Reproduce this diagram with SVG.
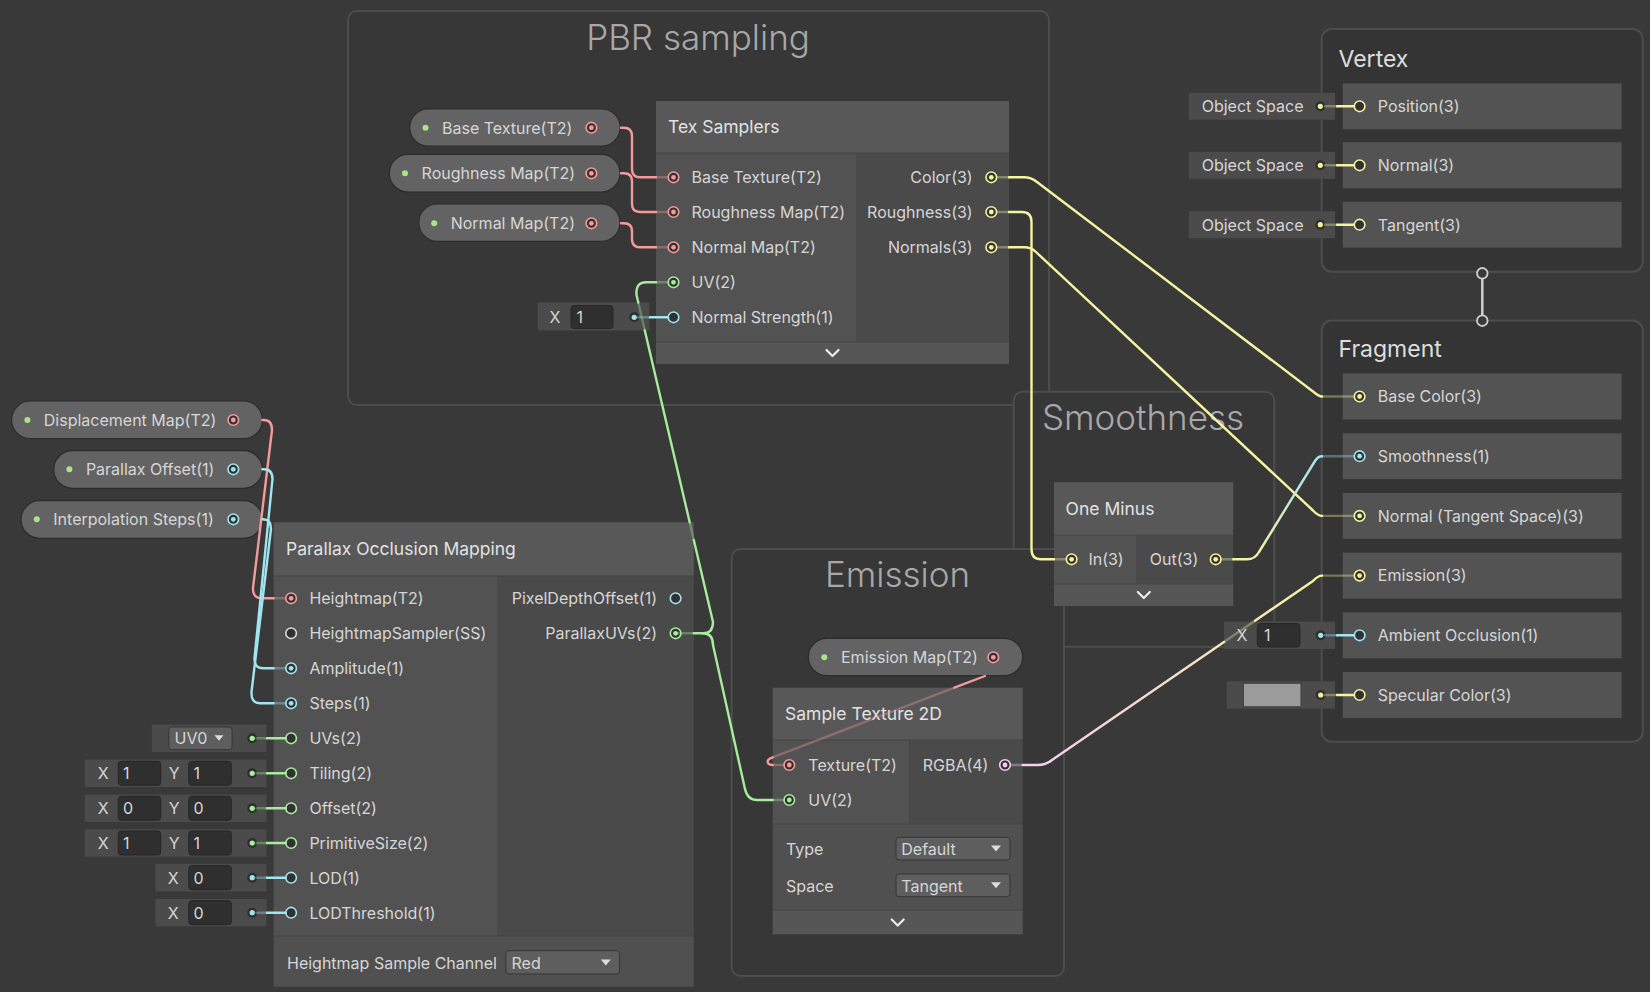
<svg xmlns="http://www.w3.org/2000/svg" width="1650" height="992" viewBox="0 0 1650 992">
<style>
text{font-family:Inter,"Noto Sans","Liberation Sans",sans-serif}
.lbl{font-size:16px;fill:#d6d6d6}
.ttl{font-size:17.5px;fill:#e2e2e2}
.gtl{font-size:35px;fill:#a8a8a8;text-anchor:middle;font-weight:300}
.ctl{font-size:23px;fill:#dedede}
.end{text-anchor:end}
.mid{text-anchor:middle}
.grp{fill:#373737;stroke:#4d4d4d;stroke-width:2}
.grp2{fill:#343434;stroke:#4d4d4d;stroke-width:2}
.hdr{fill:#585858}
.inp{fill:#525252}
.outp{fill:#4a4a4a}
.ftr{fill:#565656}
.prop{fill:#505050}
.sep{stroke:#444;stroke-width:1.2}
.pill{fill:#636363;stroke:#2c2c2c;stroke-width:1.2}
.fc{fill:#4b4b4b}
.fb{fill:#2f2f2f;stroke:#262626;stroke-width:1}
.dd{fill:#5e5e5e;stroke:#353535;stroke-width:1}
.blk{fill:#535353}
.chev{fill:none;stroke:#ececec;stroke-width:2.2;stroke-linecap:round;stroke-linejoin:round}
.arr{fill:#dcdcdc}
.p{fill:#313131;stroke-width:1.6}
.pt2{stroke:#f49a9a}.pv1{stroke:#9fe4ee}.pv2{stroke:#a8ec9e}.pv3{stroke:#f2f29e}.pv4{stroke:#f3cdee}.pss{stroke:#d9d9d9}
.dt2{fill:#f49a9a}.dv1{fill:#9fe4ee}.dv2{fill:#a8ec9e}.dv3{fill:#f2f29e}.dv4{fill:#f3cdee}
.pd{fill:#a8e48a}
.fd{fill:#2e2e2e}
.w{fill:none;stroke-width:2.4;stroke-linecap:round;stroke-linejoin:round}
.t2{stroke:#f39b9b}.v1{stroke:#a0e5ef}.v2{stroke:#a6ec9c}.v3{stroke:#f4f4a0}.v4{stroke:#f5cdef}
.dim{opacity:.35}
.vf{fill:none;stroke:#cfcfcf;stroke-width:2.5}
.vfc{fill:#393939;stroke:#cfcfcf;stroke-width:1.8}
</style>
<defs>
<linearGradient id="gOS" gradientUnits="userSpaceOnUse" x1="1240" y1="559" x2="1322" y2="456"><stop offset="0" stop-color="#f4f4a0"/><stop offset="1" stop-color="#a0e5ef"/></linearGradient>
<linearGradient id="gRE" gradientUnits="userSpaceOnUse" x1="1030" y1="765" x2="1322" y2="577"><stop offset="0" stop-color="#f5cdef"/><stop offset="1" stop-color="#f4f4a0"/></linearGradient>
</defs>
<rect x="0" y="0" width="1650" height="992" fill="#393939"/>

<!-- groups -->
<g id="group-pbr-sampling">
<rect x="348" y="11" width="701" height="394" rx="9" class="grp"/>
<text x="698" y="50" class="gtl">PBR sampling</text>
</g>
<g id="group-smoothness">
<rect x="1013.7" y="391.7" width="260.6" height="255" rx="9" class="grp"/>
<text x="1143" y="430" class="gtl">Smoothness</text>
</g>
<g id="group-emission">
<rect x="731.7" y="549" width="332.3" height="427" rx="9" class="grp"/>
<text x="897.5" y="586.7" class="gtl">Emission</text>
</g>

<!-- PBR pills -->
<g id="prop-base-texture">
<rect x="409.7" y="109" width="210.5" height="37" rx="18.5" class="pill"/>
<circle cx="425.5" cy="127.7" r="3" class="pd"/>
<text x="442" y="133.5" class="lbl">Base Texture(T2)</text>
<circle cx="591.4" cy="127.7" r="5.3" class="p pt2"/><circle cx="591.4" cy="127.7" r="2.4" class="dt2"/>
</g>
<g id="prop-roughness-map">
<rect x="389.3" y="154.3" width="230.7" height="37.7" rx="18.8" class="pill"/>
<circle cx="405" cy="173.3" r="3" class="pd"/>
<text x="421.6" y="179.1" class="lbl">Roughness Map(T2)</text>
<circle cx="591.4" cy="173.3" r="5.3" class="p pt2"/><circle cx="591.4" cy="173.3" r="2.4" class="dt2"/>
</g>
<g id="prop-normal-map">
<rect x="418.8" y="204" width="201.2" height="37.3" rx="18.6" class="pill"/>
<circle cx="434.2" cy="223.3" r="3" class="pd"/>
<text x="450.7" y="229.1" class="lbl">Normal Map(T2)</text>
<circle cx="591.4" cy="223.3" r="5.3" class="p pt2"/><circle cx="591.4" cy="223.3" r="2.4" class="dt2"/>
</g>

<!-- Tex Samplers -->
<g id="node-tex-samplers">
<rect x="656" y="101" width="353" height="52" class="hdr"/>
<rect x="656" y="153" width="200" height="189" class="inp"/>
<rect x="856" y="153" width="153" height="189" class="outp"/>
<rect x="656" y="342" width="353" height="22" class="ftr"/>
<line x1="656" y1="153" x2="1009" y2="153" class="sep"/>
<line x1="656" y1="342" x2="1009" y2="342" class="sep"/>
<text x="668" y="133" class="ttl">Tex Samplers</text>
<circle cx="673.5" cy="177.3" r="5.3" class="p pt2"/><circle cx="673.5" cy="177.3" r="2.4" class="dt2"/>
<text x="691.5" y="183.1" class="lbl">Base Texture(T2)</text>
<circle cx="673.5" cy="212" r="5.3" class="p pt2"/><circle cx="673.5" cy="212" r="2.4" class="dt2"/>
<text x="691.5" y="217.8" class="lbl">Roughness Map(T2)</text>
<circle cx="673.5" cy="247.3" r="5.3" class="p pt2"/><circle cx="673.5" cy="247.3" r="2.4" class="dt2"/>
<text x="691.5" y="253.1" class="lbl">Normal Map(T2)</text>
<circle cx="673.5" cy="282.3" r="5.3" class="p pv2"/><circle cx="673.5" cy="282.3" r="2.4" class="dv2"/>
<text x="691.5" y="288.1" class="lbl">UV(2)</text>
<circle cx="673.5" cy="317.3" r="5.3" class="p pv1"/>
<text x="691.5" y="323.1" class="lbl">Normal Strength(1)</text>
<text x="972.7" y="183.1" class="lbl end">Color(3)</text>
<circle cx="991.3" cy="177.3" r="5.3" class="p pv3"/><circle cx="991.3" cy="177.3" r="2.4" class="dv3"/>
<text x="972.7" y="217.8" class="lbl end">Roughness(3)</text>
<circle cx="991.3" cy="212" r="5.3" class="p pv3"/><circle cx="991.3" cy="212" r="2.4" class="dv3"/>
<text x="972.7" y="253.1" class="lbl end">Normals(3)</text>
<circle cx="991.3" cy="247.3" r="5.3" class="p pv3"/><circle cx="991.3" cy="247.3" r="2.4" class="dv3"/>
<path d="M826.5,350 L832.5,356 L838.5,350" class="chev"/>
<rect x="537.7" y="302.5" width="111.6" height="28" class="fc"/>
<text x="555" y="323.1" class="lbl mid">X</text>
<rect x="571" y="305.5" width="42" height="23" rx="3" class="fb"/>
<text x="576.5" y="323.1" class="lbl">1</text>
<circle cx="634.2" cy="317.3" r="5" class="fd"/><circle cx="634.2" cy="317.3" r="2.6" class="dv1"/>
</g>

<!-- Left pills -->
<g id="prop-displacement-map">
<rect x="11.6" y="401" width="250.8" height="37.7" rx="18.8" class="pill"/>
<circle cx="27.4" cy="420" r="3" class="pd"/>
<text x="43.8" y="425.8" class="lbl">Displacement Map(T2)</text>
<circle cx="233.3" cy="420" r="5.3" class="p pt2"/><circle cx="233.3" cy="420" r="2.4" class="dt2"/>
</g>
<g id="prop-parallax-offset">
<rect x="53.7" y="450.7" width="208.7" height="37.6" rx="18.8" class="pill"/>
<circle cx="69.4" cy="469.3" r="3" class="pd"/>
<text x="85.9" y="475.1" class="lbl">Parallax Offset(1)</text>
<circle cx="233.3" cy="469.3" r="5.3" class="p pv1"/><circle cx="233.3" cy="469.3" r="2.4" class="dv1"/>
</g>
<g id="prop-interpolation-steps">
<rect x="21" y="500.7" width="241.4" height="37.6" rx="18.8" class="pill"/>
<circle cx="36.8" cy="519.3" r="3" class="pd"/>
<text x="53.3" y="525.1" class="lbl">Interpolation Steps(1)</text>
<circle cx="233.3" cy="519.3" r="5.3" class="p pv1"/><circle cx="233.3" cy="519.3" r="2.4" class="dv1"/>
</g>

<!-- Parallax Occlusion Mapping -->
<g id="node-parallax-occlusion-mapping">
<rect x="273.6" y="522.3" width="420.2" height="53.7" class="hdr"/>
<rect x="273.6" y="576" width="223.4" height="360" class="inp"/>
<rect x="497" y="576" width="196.8" height="360" class="outp"/>
<rect x="273.6" y="936" width="420.2" height="50.7" class="prop"/>
<line x1="273.6" y1="576" x2="693.8" y2="576" class="sep"/>
<line x1="273.6" y1="936" x2="693.8" y2="936" class="sep"/>
<text x="286" y="555.3" class="ttl">Parallax Occlusion Mapping</text>
<circle cx="291.1" cy="598.3" r="5.3" class="p pt2"/><circle cx="291.1" cy="598.3" r="2.4" class="dt2"/>
<text x="309.4" y="604.1" class="lbl">Heightmap(T2)</text>
<circle cx="291.1" cy="633.3" r="5.3" class="p pss"/>
<text x="309.4" y="639.1" class="lbl">HeightmapSampler(SS)</text>
<circle cx="291.1" cy="668.3" r="5.3" class="p pv1"/><circle cx="291.1" cy="668.3" r="2.4" class="dv1"/>
<text x="309.4" y="674.1" class="lbl">Amplitude(1)</text>
<circle cx="291.1" cy="703.3" r="5.3" class="p pv1"/><circle cx="291.1" cy="703.3" r="2.4" class="dv1"/>
<text x="309.4" y="709.1" class="lbl">Steps(1)</text>
<circle cx="291.1" cy="738.3" r="5.3" class="p pv2"/>
<text x="309.4" y="744.1" class="lbl">UVs(2)</text>
<circle cx="291.1" cy="773.3" r="5.3" class="p pv2"/>
<text x="309.4" y="779.1" class="lbl">Tiling(2)</text>
<circle cx="291.1" cy="808.3" r="5.3" class="p pv2"/>
<text x="309.4" y="814.1" class="lbl">Offset(2)</text>
<circle cx="291.1" cy="843" r="5.3" class="p pv2"/>
<text x="309.4" y="848.8" class="lbl">PrimitiveSize(2)</text>
<circle cx="291.1" cy="877.7" r="5.3" class="p pv1"/>
<text x="309.4" y="883.5" class="lbl">LOD(1)</text>
<circle cx="291.1" cy="912.7" r="5.3" class="p pv1"/>
<text x="309.4" y="918.5" class="lbl">LODThreshold(1)</text>
<text x="657" y="604.1" class="lbl end">PixelDepthOffset(1)</text>
<circle cx="675.6" cy="598.3" r="5.3" class="p pv1"/>
<text x="657" y="639.1" class="lbl end">ParallaxUVs(2)</text>
<circle cx="675.6" cy="633.3" r="5.3" class="p pv2"/><circle cx="675.6" cy="633.3" r="2.4" class="dv2"/>
<text x="287" y="968.5" class="lbl">Heightmap Sample Channel</text>
<rect x="505.8" y="950.7" width="113.8" height="23.3" rx="3" class="dd"/>
<text x="511.5" y="968.5" class="lbl">Red</text>
<path d="M600.8,959.5 L610.8,959.5 L605.8,965.5 Z" class="arr"/>
<!-- inline inputs -->
<rect x="151.8" y="724.6" width="114.7" height="27.4" class="fc"/>
<rect x="168.8" y="727" width="63.3" height="22.6" rx="3" class="dd"/>
<text x="174.5" y="744.1" class="lbl">UV0</text>
<path d="M214.5,735.3 L223.5,735.3 L219,740.8 Z" class="arr"/>
<circle cx="252.2" cy="738.3" r="5" class="fd"/><circle cx="252.2" cy="738.3" r="2.6" class="dv2"/>
<rect x="84.8" y="759.6" width="181.7" height="27.4" class="fc"/>
<text x="103.2" y="779.1" class="lbl mid">X</text>
<rect x="118.3" y="761.3" width="42.4" height="24" rx="3" class="fb"/>
<text x="123" y="779.1" class="lbl">1</text>
<text x="174.1" y="779.1" class="lbl mid">Y</text>
<rect x="188.8" y="761.3" width="42.5" height="24" rx="3" class="fb"/>
<text x="193.5" y="779.1" class="lbl">1</text>
<circle cx="252.2" cy="773.3" r="5" class="fd"/><circle cx="252.2" cy="773.3" r="2.6" class="dv2"/>
<rect x="84.8" y="794.6" width="181.7" height="27.4" class="fc"/>
<text x="103.2" y="814.1" class="lbl mid">X</text>
<rect x="118.3" y="796.3" width="42.4" height="24" rx="3" class="fb"/>
<text x="123" y="814.1" class="lbl">0</text>
<text x="174.1" y="814.1" class="lbl mid">Y</text>
<rect x="188.8" y="796.3" width="42.5" height="24" rx="3" class="fb"/>
<text x="193.5" y="814.1" class="lbl">0</text>
<circle cx="252.2" cy="808.3" r="5" class="fd"/><circle cx="252.2" cy="808.3" r="2.6" class="dv2"/>
<rect x="84.8" y="829.3" width="181.7" height="27.4" class="fc"/>
<text x="103.2" y="848.8" class="lbl mid">X</text>
<rect x="118.3" y="831" width="42.4" height="24" rx="3" class="fb"/>
<text x="123" y="848.8" class="lbl">1</text>
<text x="174.1" y="848.8" class="lbl mid">Y</text>
<rect x="188.8" y="831" width="42.5" height="24" rx="3" class="fb"/>
<text x="193.5" y="848.8" class="lbl">1</text>
<circle cx="252.2" cy="843" r="5" class="fd"/><circle cx="252.2" cy="843" r="2.6" class="dv2"/>
<rect x="155.4" y="864" width="111.1" height="27.4" class="fc"/>
<text x="173.2" y="883.5" class="lbl mid">X</text>
<rect x="188.8" y="865.7" width="42.5" height="24" rx="3" class="fb"/>
<text x="193.5" y="883.5" class="lbl">0</text>
<circle cx="252.2" cy="877.7" r="5" class="fd"/><circle cx="252.2" cy="877.7" r="2.6" class="dv1"/>
<rect x="155.4" y="899" width="111.1" height="27.4" class="fc"/>
<text x="173.2" y="918.5" class="lbl mid">X</text>
<rect x="188.8" y="900.7" width="42.5" height="24" rx="3" class="fb"/>
<text x="193.5" y="918.5" class="lbl">0</text>
<circle cx="252.2" cy="912.7" r="5" class="fd"/><circle cx="252.2" cy="912.7" r="2.6" class="dv1"/>
</g>

<!-- Emission -->
<g id="prop-emission-map">
<rect x="808.3" y="638.3" width="214.4" height="37.4" rx="18.7" class="pill"/>
<circle cx="824.3" cy="657.3" r="3" class="pd"/>
<text x="841" y="663.1" class="lbl">Emission Map(T2)</text>
<circle cx="993.3" cy="657.3" r="5.3" class="p pt2"/><circle cx="993.3" cy="657.3" r="2.4" class="dt2"/>
</g>
<g id="node-sample-texture-2d">
<rect x="772.7" y="687.7" width="250" height="52.3" class="hdr"/>
<rect x="772.7" y="740" width="136.6" height="84" class="inp"/>
<rect x="909.3" y="740" width="113.4" height="84" class="outp"/>
<rect x="772.7" y="824" width="250" height="86" class="prop"/>
<rect x="772.7" y="910" width="250" height="24.3" class="ftr"/>
<line x1="772.7" y1="740" x2="1022.7" y2="740" class="sep"/>
<line x1="772.7" y1="824" x2="1022.7" y2="824" class="sep"/>
<line x1="772.7" y1="910" x2="1022.7" y2="910" class="sep"/>
<text x="785" y="720" class="ttl">Sample Texture 2D</text>
<circle cx="789.3" cy="765" r="5.3" class="p pt2"/><circle cx="789.3" cy="765" r="2.4" class="dt2"/>
<text x="808.3" y="770.8" class="lbl">Texture(T2)</text>
<circle cx="789.3" cy="800" r="5.3" class="p pv2"/><circle cx="789.3" cy="800" r="2.4" class="dv2"/>
<text x="808.3" y="805.8" class="lbl">UV(2)</text>
<text x="922.7" y="770.8" class="lbl">RGBA(4)</text>
<circle cx="1005" cy="765" r="5.3" class="p pv4"/><circle cx="1005" cy="765" r="2.4" class="dv4"/>
<text x="786" y="854.5" class="lbl">Type</text>
<rect x="896" y="837.3" width="114" height="22.7" rx="3" class="dd"/>
<text x="901.3" y="854.5" class="lbl">Default</text>
<path d="M991,845.5 L1001,845.5 L996,851.5 Z" class="arr"/>
<text x="786" y="891.5" class="lbl">Space</text>
<rect x="896" y="874" width="114" height="22.7" rx="3" class="dd"/>
<text x="901.3" y="891.5" class="lbl">Tangent</text>
<path d="M991,882.3 L1001,882.3 L996,888.3 Z" class="arr"/>
<path d="M891.7,919.5 L897.7,925.5 L903.7,919.5" class="chev"/>
</g>

<!-- One Minus -->
<g id="node-one-minus">
<rect x="1054" y="482.3" width="179.3" height="52.7" class="hdr"/>
<rect x="1054" y="535" width="82" height="49" class="inp"/>
<rect x="1136" y="535" width="97.3" height="49" class="outp"/>
<rect x="1054" y="584" width="179.3" height="22" class="ftr"/>
<line x1="1054" y1="535" x2="1233.3" y2="535" class="sep"/>
<line x1="1054" y1="584" x2="1233.3" y2="584" class="sep"/>
<text x="1065.6" y="514.5" class="ttl">One Minus</text>
<circle cx="1071.6" cy="559.3" r="5.3" class="p pv3"/><circle cx="1071.6" cy="559.3" r="2.4" class="dv3"/>
<text x="1088.4" y="565.1" class="lbl">In(3)</text>
<text x="1149.8" y="565.1" class="lbl">Out(3)</text>
<circle cx="1215.7" cy="559.3" r="5.3" class="p pv3"/><circle cx="1215.7" cy="559.3" r="2.4" class="dv3"/>
<path d="M1137.8,592 L1143.8,598 L1149.8,592" class="chev"/>
</g>

<!-- Vertex -->
<g id="context-vertex">
<rect x="1321.7" y="29" width="321" height="242.7" rx="10" class="grp2"/>
<text x="1338.5" y="66.7" class="ctl">Vertex</text>
<rect x="1342.7" y="83.3" width="279" height="46" class="blk"/>
<rect x="1342.7" y="142.3" width="279" height="46" class="blk"/>
<rect x="1342.7" y="201.7" width="279" height="46" class="blk"/>
<circle cx="1359.6" cy="106.3" r="5.3" class="p pv3"/>
<text x="1377.8" y="112.1" class="lbl">Position(3)</text>
<circle cx="1359.6" cy="165.3" r="5.3" class="p pv3"/>
<text x="1377.8" y="171.1" class="lbl">Normal(3)</text>
<circle cx="1359.6" cy="224.7" r="5.3" class="p pv3"/>
<text x="1377.8" y="230.5" class="lbl">Tangent(3)</text>
<rect x="1188.7" y="92.8" width="146.3" height="27" class="fc"/>
<text x="1201.7" y="112.1" class="lbl">Object Space</text>
<circle cx="1320.3" cy="106.3" r="5" class="fd"/><circle cx="1320.3" cy="106.3" r="2.6" class="dv3"/>
<rect x="1188.7" y="151.8" width="146.3" height="27" class="fc"/>
<text x="1201.7" y="171.1" class="lbl">Object Space</text>
<circle cx="1320.3" cy="165.3" r="5" class="fd"/><circle cx="1320.3" cy="165.3" r="2.6" class="dv3"/>
<rect x="1188.7" y="211.2" width="146.3" height="27" class="fc"/>
<text x="1201.7" y="230.5" class="lbl">Object Space</text>
<circle cx="1320.3" cy="224.7" r="5" class="fd"/><circle cx="1320.3" cy="224.7" r="2.6" class="dv3"/>
</g>

<!-- Fragment -->
<g id="context-fragment">
<rect x="1321.7" y="320.5" width="321" height="421.2" rx="10" class="grp2"/>
<text x="1338.5" y="356.7" class="ctl">Fragment</text>
<rect x="1342.7" y="373.5" width="279" height="46" class="blk"/>
<rect x="1342.7" y="433.2" width="279" height="46" class="blk"/>
<rect x="1342.7" y="492.9" width="279" height="46" class="blk"/>
<rect x="1342.7" y="552.6" width="279" height="46" class="blk"/>
<rect x="1342.7" y="612.3" width="279" height="46" class="blk"/>
<rect x="1342.7" y="672" width="279" height="46" class="blk"/>
<circle cx="1359.6" cy="396.5" r="5.3" class="p pv3"/><circle cx="1359.6" cy="396.5" r="2.4" class="dv3"/>
<text x="1377.8" y="402.3" class="lbl">Base Color(3)</text>
<circle cx="1359.6" cy="456.2" r="5.3" class="p pv1"/><circle cx="1359.6" cy="456.2" r="2.4" class="dv1"/>
<text x="1377.8" y="462" class="lbl">Smoothness(1)</text>
<circle cx="1359.6" cy="515.9" r="5.3" class="p pv3"/><circle cx="1359.6" cy="515.9" r="2.4" class="dv3"/>
<text x="1377.8" y="521.7" class="lbl">Normal (Tangent Space)(3)</text>
<circle cx="1359.6" cy="575.6" r="5.3" class="p pv3"/><circle cx="1359.6" cy="575.6" r="2.4" class="dv3"/>
<text x="1377.8" y="581.4" class="lbl">Emission(3)</text>
<circle cx="1359.6" cy="635.3" r="5.3" class="p pv1"/>
<text x="1377.8" y="641.1" class="lbl">Ambient Occlusion(1)</text>
<circle cx="1359.6" cy="695" r="5.3" class="p pv3"/>
<text x="1377.8" y="700.8" class="lbl">Specular Color(3)</text>
<rect x="1224" y="621.6" width="111" height="27.4" class="fc"/>
<text x="1242" y="641.1" class="lbl mid">X</text>
<rect x="1257.3" y="623.6" width="42.7" height="23.4" rx="3" class="fb"/>
<text x="1264" y="641.1" class="lbl">1</text>
<circle cx="1320.7" cy="635.3" r="5" class="fd"/><circle cx="1320.7" cy="635.3" r="2.6" class="dv1"/>
<rect x="1226.7" y="681.3" width="108.3" height="27.4" class="fc"/>
<rect x="1243.3" y="683.2" width="57.7" height="23.6" fill="#9b9b9b" stroke="#3a3a3a" stroke-width="1"/>
<circle cx="1320.7" cy="695" r="5" class="fd"/><circle cx="1320.7" cy="695" r="2.6" class="dv3"/>
</g>

<!-- connectors -->
<g id="connectors">
<line x1="1482.3" y1="278.6" x2="1482.3" y2="315.4" class="vf"/>
<circle cx="1482.3" cy="273.3" r="5.3" class="vfc"/>
<circle cx="1482.3" cy="320.7" r="5.3" class="vfc"/>
<path d="M621,127.7 H624 Q632,127.7 632,136 V169 Q632,177.3 640,177.3 H656" class="w t2"/>
<path d="M621,173.3 H624 Q632,173.3 632,181 V204 Q632,212 640,212 H656" class="w t2"/>
<path d="M621,223.3 H624 Q632,223.3 632,231 V239.5 Q632,247.3 640,247.3 H656" class="w t2"/>
<path d="M656,177.3 H668 M656,212 H668 M656,247.3 H668" class="w t2 dim"/>
<path d="M656,282.3 H668" class="w v2 dim"/>
<path d="M638,317.3 H650" class="w v1 dim"/>
<path d="M650,317.3 H668" class="w v1"/>
<path d="M675.6,633.3 H693.8" class="w v2 dim"/>
<path d="M693.8,633.3 H703 Q713,633.3 713,622 L693.8,540" class="w v2"/>
<path d="M693.8,540 L689.7,522.3" class="w v2 dim"/>
<path d="M689.7,522.3 L644.8,330.5" class="w v2"/>
<path d="M644.8,330.5 L638.3,302.5" class="w v2 dim"/>
<path d="M638.3,302.5 L636.5,295 Q635.5,282.3 646,282.3 H656" class="w v2"/>
<path d="M703,633.3 Q713,633.3 713,645 L745,789 Q747.5,800 757,800 H772.7" class="w v2"/>
<path d="M772.7,800 H784" class="w v2 dim"/>
<path d="M262.4,420 H264 Q272,420 272,430 L253,588 Q252.5,598.3 262,598.3 H273.6" class="w t2"/>
<path d="M273.6,598.3 H285.8" class="w t2 dim"/>
<path d="M262.4,469.3 H264 Q272.5,469.3 272.5,479 L254.5,658 Q254,668.3 263,668.3 H273.6" class="w v1"/>
<path d="M262.4,519.3 H263 Q271,519.3 271,529 L251.5,692 Q251,703.3 260,703.3 H273.6" class="w v1"/>
<path d="M273.6,668.3 H285.8 M273.6,703.3 H285.8" class="w v1 dim"/>
<path d="M256.5,738.3 H267 M256.5,773.3 H267 M256.5,808.3 H267 M256.5,843 H267" class="w v2 dim"/>
<path d="M267,738.3 H285.8 M267,773.3 H285.8 M267,808.3 H285.8 M267,843 H285.8" class="w v2"/>
<path d="M256.5,877.7 H267 M256.5,912.7 H267" class="w v1 dim"/>
<path d="M267,877.7 H285.8 M267,912.7 H285.8" class="w v1"/>
<path d="M985,676 L954.4,687.7" class="w t2"/>
<path d="M954.4,687.7 L772.7,757.3" class="w t2 dim"/>
<path d="M772.7,757.3 Q766.5,759.5 768,763 Q769,765 772.7,765" class="w t2"/>
<path d="M772.7,765 H784" class="w t2 dim"/>
<path d="M997,177.3 H1009 M997,212 H1009 M997,247.3 H1009" class="w v3 dim"/>
<path d="M1009,177.3 H1024 Q1031,177.3 1037,182 L1313,391.5 Q1319,396.5 1322,396.5" class="w v3"/>
<path d="M1009,212 H1022 Q1031.5,212 1031.5,222 V549 Q1031.5,559.3 1041,559.3 H1054" class="w v3"/>
<path d="M1054,559.3 H1066" class="w v3 dim"/>
<path d="M1009,247.3 H1024 Q1031,247.3 1036,252 L1313,510.5 Q1318,515.9 1322,515.9" class="w v3"/>
<path d="M1322,396.5 H1354 M1322,515.9 H1354 M1322,575.6 H1354" class="w v3 dim"/>
<path d="M1221,559.3 H1233.3" class="w v3 dim"/>
<path d="M1233.3,559.3 H1247 Q1255,559.3 1259,552 L1315,461 Q1318,456.2 1322,456.2" class="w" stroke="url(#gOS)"/>
<path d="M1322,456.2 H1354" class="w v1 dim"/>
<path d="M1011,765 H1022.7" class="w v4 dim"/>
<path d="M1022.7,765 H1038 Q1046,765 1052,760 L1224,642" class="w" stroke="url(#gRE)"/>
<path d="M1224,642 L1255,620.7" class="w dim" stroke="url(#gRE)"/>
<path d="M1255,620.7 L1313,581 Q1318,575.6 1322,575.6" class="w" stroke="url(#gRE)"/>
<path d="M1325,106.3 H1337 M1325,165.3 H1337 M1325,224.7 H1337 M1325,695 H1337" class="w v3 dim"/>
<path d="M1337,106.3 H1354 M1337,165.3 H1354 M1337,224.7 H1354 M1337,695 H1354" class="w v3"/>
<path d="M1325,635.3 H1337" class="w v1 dim"/>
<path d="M1337,635.3 H1354" class="w v1"/>
</g>
</svg>
